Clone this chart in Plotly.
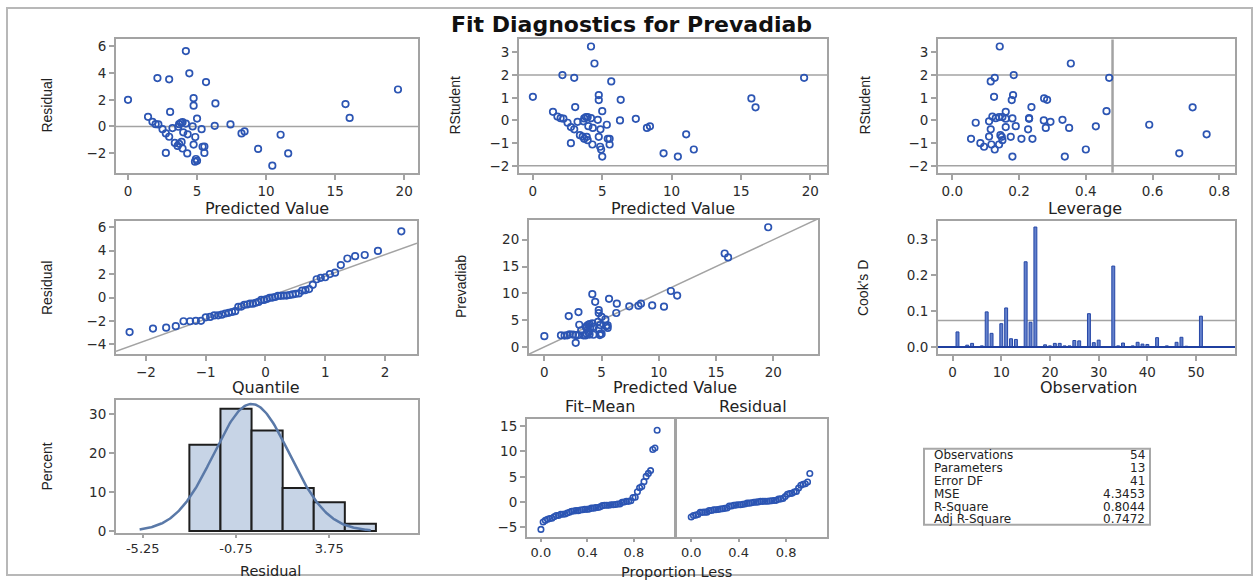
import math
from statistics import NormalDist
import plotly.graph_objects as go

# ---------------- data ----------------
predicted = [0.0, 4.19, 4.44, 2.13, 2.98, 5.65, 19.55, 4.75, 4.75, 6.33,
             15.75, 16.05, 3.05, 5.0, 1.45, 1.77, 2.0, 2.2, 3.83, 3.95,
             3.7, 4.19, 4.68, 6.28, 7.42, 3.64, 2.5, 3.22, 5.33, 8.44,
             8.22, 2.74, 2.98, 4.0, 4.32, 4.87, 11.05, 3.39, 3.88, 3.59,
             3.95, 4.75, 5.4, 5.53, 2.74, 4.29, 5.53, 9.42, 11.6, 4.92,
             5.0, 4.85, 10.45, 3.7]
residual = [2.0, 5.65, 3.98, 3.63, 3.53, 3.33, 2.77, 2.12, 1.56, 1.73,
            1.68, 0.64, 1.09, 0.59, 0.72, 0.35, 0.17, 0.15, 0.27, 0.32,
            0.17, 0.22, 0.0, 0.05, 0.15, -0.02, -0.2, -0.12, -0.2, -0.37,
            -0.52, -0.52, -0.77, -0.44, -0.59, -0.79, -0.62, -1.23, -1.16, -1.46,
            -1.65, -1.36, -1.52, -1.51, -1.98, -2.02, -1.98, -1.68, -2.02, -2.44,
            -2.57, -2.64, -2.94, -1.3]
rstudent = [1.04, 3.26, 2.51, 2.0, 1.88, 1.72, 1.88, 1.12, 0.9, 0.91,
            0.97, 0.58, 0.59, 0.41, 0.38, 0.17, 0.1, 0.08, 0.15, 0.15,
            0.09, 0.1, 0.03, 0.0, 0.07, -0.04, -0.1, -0.06, -0.19, -0.26,
            -0.33, -0.29, -0.39, -0.25, -0.33, -0.39, -0.61, -0.65, -0.72, -0.71,
            -0.87, -0.72, -0.81, -0.81, -1.0, -1.06, -1.06, -1.45, -1.28, -1.28,
            -1.59, -1.16, -1.59, -0.81]
leverage = [0.125, 0.142, 0.355, 0.184, 0.127, 0.115, 0.47, 0.182, 0.178, 0.284,
            0.275, 0.72, 0.237, 0.462, 0.16, 0.12, 0.13, 0.16, 0.14, 0.15,
            0.18, 0.23, 0.33, 0.274, 0.23, 0.11, 0.07, 0.294, 0.59, 0.43,
            0.35, 0.16, 0.115, 0.19, 0.28, 0.227, 0.762, 0.144, 0.148, 0.11,
            0.15, 0.175, 0.207, 0.24, 0.084, 0.117, 0.14, 0.68, 0.4, 0.127,
            0.18, 0.095, 0.337, 0.056]
cooks_d = [0.042, 0.001, 0.005, 0.010, 0.001, 0.003, 0.098, 0.038, 0.001, 0.065,
           0.109, 0.023, 0.021, 0.001, 0.238, 0.069, 0.335, 0.001, 0.006, 0.003,
           0.010, 0.010, 0.003, 0.003, 0.018, 0.017, 0.001, 0.093, 0.012, 0.019,
           0.001, 0.001, 0.226, 0.003, 0.011, 0.001, 0.003, 0.013, 0.008, 0.007,
           0.001, 0.026, 0.001, 0.003, 0.001, 0.013, 0.027, 0.002, 0.001, 0.001,
           0.086, 0.001, 0.001, 0.001]
hist_centers = [-2.25, -0.75, 0.75, 2.25, 3.75, 5.25]
hist_percent = [22.2, 31.5, 25.9, 11.1, 7.4, 1.9]
hist_ticks = [-5.25, -0.75, 3.75]
hist_ticktext = ["-5.25", "-0.75", "3.75"]
stat_labels = ["Observations", "Parameters", "Error DF", "MSE", "R-Square", "Adj R-Square"]
stat_values = ["54", "13", "41", "4.3453", "0.8044", "0.7472"]
cooks_cutoff = 0.074
rstudent_limit = 2.0
leverage_cutoff = 0.48

# ---------------- derived ----------------
n = len(residual)
observed = [p + r for p, r in zip(predicted, residual)]
obs_index = list(range(1, n + 1))
res_sorted = sorted(residual)
quantiles = [NormalDist().inv_cdf((i - 0.375) / (n + 0.25)) for i in range(1, n + 1)]
mean_fit = sum(predicted) / n
fit_mean_sorted = sorted(p - mean_fit for p in predicted)
prop_less = [i / (n - 1) for i in range(n)]
sd = math.sqrt(sum(r * r for r in residual) / (n - 1))
curve_x = [-5.4 + 0.05 * k for k in range(0, 224)]
curve_y = [100 * 1.5 * NormalDist(0, sd).pdf(v) for v in curve_x]

# ---------------- layout helpers ----------------
W, H = 1258, 585
def xd(a, b):
    return [a / W, b / W]
def yd(top, bottom):
    return [1 - bottom / H, 1 - top / H]

FONT = "DejaVu Sans"
YFONT = "Liberation Sans, Arial, sans-serif"
GRAY = "#a3a3a3"
BLUE = "#2c55b3"
AX = dict(showline=True, mirror=True, linecolor=GRAY, linewidth=2,
          ticks="outside", ticklen=5, tickcolor=GRAY, tickwidth=1.5,
          showgrid=False, zeroline=False, fixedrange=True,
          tickfont=dict(family=FONT, size=13.5, color="#2b2b2b"))

fig = go.Figure()
layout = dict(width=W, height=H, margin=dict(l=0, r=0, t=0, b=0),
              paper_bgcolor="white", plot_bgcolor="white", showlegend=False)

panels = {
    1: dict(px=(116, 418), py=(38, 173), xr=[-0.87, 21.0], yr=[-3.46, 6.52],
            xt=[0, 5, 10, 15, 20], yt=[-2, 0, 2, 4, 6]),
    2: dict(px=(519, 827), py=(38, 173), xr=[-1.0, 21.2], yr=[-2.3, 3.57],
            xt=[0, 5, 10, 15, 20], yt=[-2, -1, 0, 1, 2, 3]),
    3: dict(px=(938, 1235), py=(38, 173), xr=[-0.043, 0.847], yr=[-2.3, 3.57],
            xt=[0, 0.2, 0.4, 0.6, 0.8], yt=[-2, -1, 0, 1, 2, 3], xfmt=".1f"),
    4: dict(px=(116, 417), py=(222, 357), xr=[-2.5, 2.535], yr=[-4.82, 6.53],
            xt=[-2, -1, 0, 1, 2], yt=[-4, -2, 0, 2, 4, 6]),
    5: dict(px=(529, 818), py=(221, 357), xr=[-1.34, 23.9], yr=[-1.34, 23.68],
            xt=[0, 5, 10, 15, 20], yt=[0, 5, 10, 15, 20]),
    6: dict(px=(938, 1235), py=(222, 357), xr=[-3.0, 58.0], yr=[-0.02, 0.352],
            xt=[0, 10, 20, 30, 40, 50], yt=[0, 0.1, 0.2, 0.3], yfmt=".1f"),
    7: dict(px=(116, 418), py=(404, 538), xr=[-6.54, 8.03], yr=[-0.4, 33.6],
            xt=hist_ticks, xtt=hist_ticktext, yt=[0, 10, 20, 30], short=True),
    8: dict(px=(527, 674), py=(423, 542), xr=[-0.12, 1.145], yr=[-6.8, 16.36],
            xt=[0, 0.4, 0.8], yt=[-5, 0, 5, 10, 15], xfmt=".1f", short=True),
    9: dict(px=(677, 827), py=(423, 542), xr=[-0.12, 1.145], yr=[-6.8, 16.36],
            xt=[0, 0.4, 0.8], yt=[-5, 0, 5, 10, 15], xfmt=".1f", noylab=True, short=True),
}

for k, p in panels.items():
    sfx = "" if k == 1 else str(k)
    xa = dict(AX, domain=xd(*p["px"]), range=p["xr"], anchor="y" + sfx, tickvals=p["xt"])
    if "xtt" in p:
        xa["ticktext"] = p["xtt"]
    if "xfmt" in p:
        xa["tickformat"] = p["xfmt"]
    if p.get("short"):
        xa["ticklen"] = 3
        xa["tickfont"] = dict(family=FONT, size=13, color="#2b2b2b")
    ya = dict(AX, domain=yd(*p["py"]), range=p["yr"], anchor="x" + sfx, tickvals=p["yt"])
    if "yfmt" in p:
        ya["tickformat"] = p["yfmt"]
    if p.get("noylab"):
        ya["showticklabels"] = False
        ya["ticks"] = ""
    layout["xaxis" + sfx] = xa
    layout["yaxis" + sfx] = ya

mk = dict(symbol="circle-open", size=6.5, color=BLUE, line=dict(width=1.7))
def scat(x, y, k):
    sfx = "" if k == 1 else str(k)
    fig.add_trace(go.Scatter(x=x, y=y, mode="markers", marker=mk,
                             xaxis="x" + sfx, yaxis="y" + sfx, hoverinfo="skip"))

shapes = []
def hline(k, y, color=GRAY, width=1.5, layer="below"):
    sfx = "" if k == 1 else str(k)
    shapes.append(dict(type="line", xref="x" + sfx + " domain", x0=0, x1=1,
                       yref="y" + sfx, y0=y, y1=y, layer=layer,
                       line=dict(color=color, width=width)))
def vline(k, x, color=GRAY, width=1.5):
    sfx = "" if k == 1 else str(k)
    shapes.append(dict(type="line", yref="y" + sfx + " domain", y0=0, y1=1,
                       xref="x" + sfx, x0=x, x1=x, layer="below",
                       line=dict(color=color, width=width)))

# Panel 1: residual vs predicted
hline(1, 0)
scat(predicted, residual, 1)
# Panel 2: RStudent vs predicted
hline(2, rstudent_limit); hline(2, -rstudent_limit)
scat(predicted, rstudent, 2)
# Panel 3: RStudent vs leverage
hline(3, rstudent_limit); hline(3, -rstudent_limit)
vline(3, leverage_cutoff, width=2.5)
scat(leverage, rstudent, 3)
# Panel 4: QQ
qx = panels[4]["xr"]
fig.add_trace(go.Scatter(x=qx, y=[sd * v for v in qx], mode="lines",
                         line=dict(color=GRAY, width=1.5), xaxis="x4", yaxis="y4", hoverinfo="skip"))
scat(quantiles, res_sorted, 4)
# Panel 5: observed vs predicted
dx = panels[5]["xr"]
fig.add_trace(go.Scatter(x=dx, y=dx, mode="lines", line=dict(color=GRAY, width=1.5),
                         xaxis="x5", yaxis="y5", hoverinfo="skip"))
scat(predicted, observed, 5)
# Panel 6: Cook's D
hline(6, cooks_cutoff)
fig.add_trace(go.Bar(x=obs_index, y=cooks_d, width=0.6,
                     marker=dict(color="#6380cc", line=dict(color="#2446a6", width=1)),
                     xaxis="x6", yaxis="y6", hoverinfo="skip"))
hline(6, 0, color="#1f3f9f", width=2, layer="above")
# Panel 7: histogram
fig.add_trace(go.Bar(x=hist_centers, y=hist_percent, width=1.5,
                     marker=dict(color="#c7d4e6", line=dict(color="#1e1e1e", width=2)),
                     xaxis="x7", yaxis="y7", hoverinfo="skip"))
fig.add_trace(go.Scatter(x=curve_x, y=curve_y, mode="lines",
                         line=dict(color="#5a79a8", width=2.5),
                         xaxis="x7", yaxis="y7", hoverinfo="skip"))
# Panel 8: residual-fit spread
mk2 = dict(symbol="circle-open", size=5.5, color=BLUE, line=dict(width=1.6))
fig.add_trace(go.Scatter(x=prop_less, y=fit_mean_sorted, mode="markers", marker=mk2,
                         xaxis="x8", yaxis="y8", hoverinfo="skip"))
fig.add_trace(go.Scatter(x=prop_less, y=res_sorted, mode="markers", marker=mk2,
                         xaxis="x9", yaxis="y9", hoverinfo="skip"))

# outer border
shapes.append(dict(type="rect", xref="paper", yref="paper",
                   x0=7 / W, x1=1252 / W, y0=1 - 581 / H, y1=1 - 6 / H,
                   line=dict(color="#b8b8b8", width=2), layer="below"))
# stats table box
shapes.append(dict(type="rect", xref="paper", yref="paper",
                   x0=924 / W, x1=1150 / W, y0=1 - 530 / H, y1=1 - 453 / H,
                   line=dict(color="#a8a8a8", width=2), layer="below"))

ann = []
def text(s, x, y, size=16, anchor="center", angle=0, family=FONT, bold=False,
         color="#222", yanchor="middle"):
    ann.append(dict(text=("<b>%s</b>" % s) if bold else s, x=x / W, y=1 - y / H,
                    xref="paper", yref="paper", showarrow=False,
                    xanchor=anchor, yanchor=yanchor, textangle=angle,
                    font=dict(family=family, size=size, color=color)))

text("Fit Diagnostics for Prevadiab", 632, 23, size=22, bold=True, color="#111")
# x titles
text("Predicted Value", 267, 209)
text("Predicted Value", 673, 209)
text("Leverage", 1085, 209)
text("Quantile", 266, 391)
text("Predicted Value", 675, 391)
text("Observation", 1088, 391)
text("Residual", 270, 587, size=14.5, yanchor="bottom")
text("Proportion Less", 676, 588, size=14.5, yanchor="bottom")
text("Fit\u2013Mean", 600, 410)
text("Residual", 753, 410)
# y titles
for s, x, y in [("Residual", 47, 105), ("RStudent", 455, 105), ("RStudent", 865, 105),
                ("Residual", 47, 290), ("Prevadiab", 461, 289), ("Cook's D", 863, 290),
                ("Percent", 47, 471)]:
    text(s, x, y, size=14, angle=-90, family=YFONT)
# stats table
rows_y = [459.5, 472.5, 485.5, 498.5, 511.5, 524.5]
for lab, val, y in zip(stat_labels, stat_values, rows_y):
    text(lab, 932, y, size=12, anchor="left")
    text(val, 1147, y, size=12, anchor="right")

layout["shapes"] = shapes
layout["annotations"] = ann
fig.update_layout(**layout)
fig.write_html("out.html")
